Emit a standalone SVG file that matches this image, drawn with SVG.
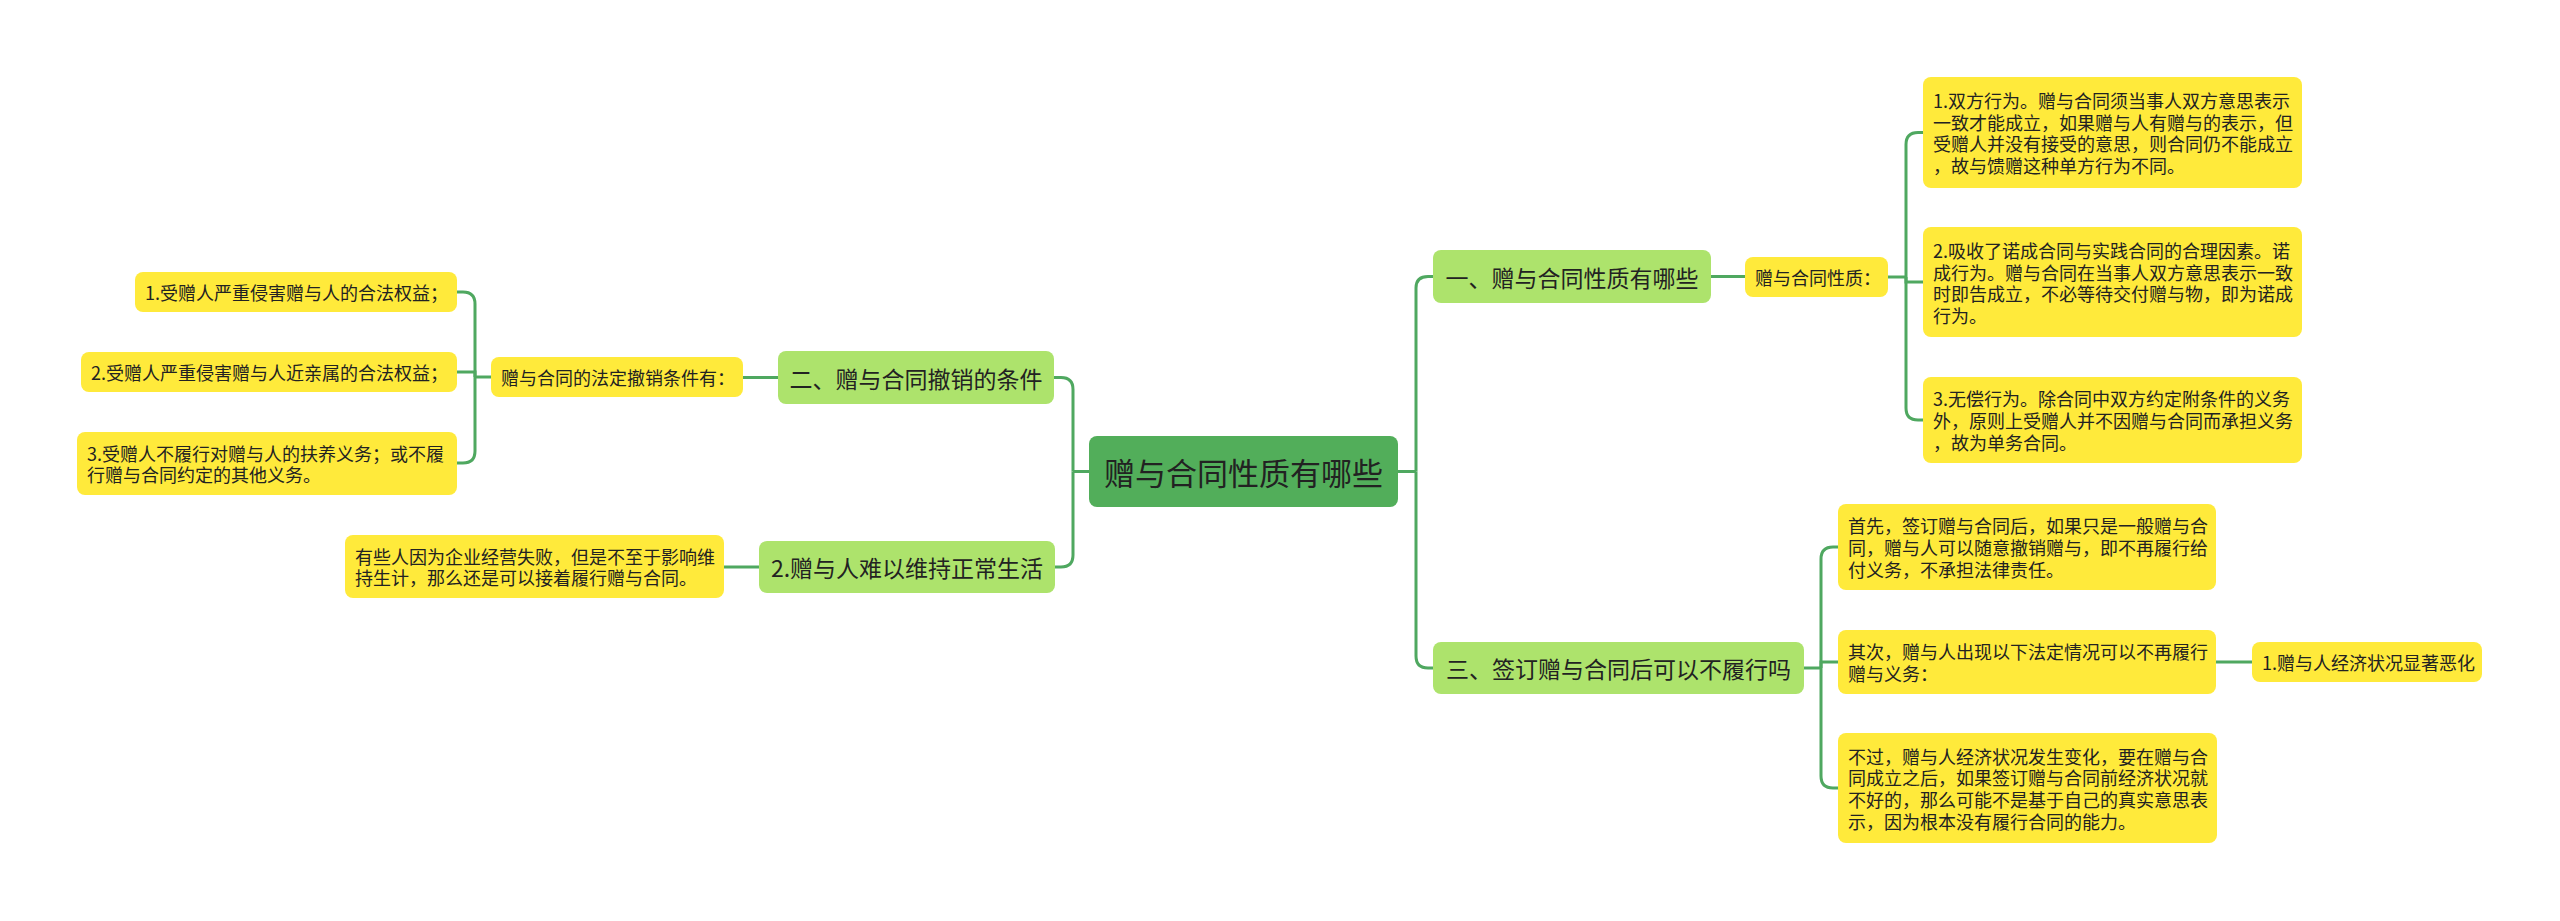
<svg xmlns="http://www.w3.org/2000/svg" width="2560" height="921" viewBox="0 0 2560 921">
<style>
text{font-family:"Noto Sans CJK SC","Noto Sans",sans-serif;fill:#222;dominant-baseline:central}
.root rect{fill:#52ae5a}
.root text{font-size:31px;text-anchor:middle}
.l1 rect{fill:#ade36c}
.l1 text{font-size:23px;text-anchor:middle}
.l2 rect{fill:#ffea3b}
.l2 text{font-size:18px}
.conn path{fill:none;stroke:#4fa860;stroke-width:3}
</style>
<rect width="2560" height="921" fill="#fff"/>
<g class="conn">
<path d="M1398,471.5 H1416"/>
<path d="M1416,471.5 V288 Q1416,276.5 1428,276.5 H1433"/>
<path d="M1416,471.5 V656 Q1416,668 1428,668 H1433"/>
<path d="M1089,471.5 H1073"/>
<path d="M1073,471.5 V389.5 Q1073,377.5 1061,377.5 H1054"/>
<path d="M1073,471.5 V555 Q1073,567 1061,567 H1055"/>
<path d="M1711,276.5 H1745"/>
<path d="M1888,277 H1906"/>
<path d="M1906,277 V144.5 Q1906,132.5 1918,132.5 H1923"/>
<path d="M1906,277 V282 H1923"/>
<path d="M1906,277 V408 Q1906,420 1918,420 H1923"/>
<path d="M1804,668 H1821"/>
<path d="M1821,668 V559 Q1821,547 1833,547 H1838"/>
<path d="M1821,668 V662 H1838"/>
<path d="M1821,668 V776 Q1821,788 1833,788 H1838"/>
<path d="M2216,662 H2252"/>
<path d="M778,377.5 H743"/>
<path d="M491,377 H475"/>
<path d="M475,377 V304 Q475,292 463,292 H457"/>
<path d="M475,377 V372 H457"/>
<path d="M475,377 V451 Q475,463 463,463 H457"/>
<path d="M759,567 H724"/>
</g>
<g id="root" class="root"><rect x="1089" y="436" width="309" height="71" rx="8"/><text x="1243.5" y="471.5">赠与合同性质有哪些</text></g>
<g id="n1" class="l1"><rect x="1433" y="250" width="278" height="53" rx="8"/><text x="1572" y="276.5">一、赠与合同性质有哪些</text></g>
<g id="n1a" class="l2"><rect x="1745" y="257" width="143" height="40" rx="8"/><text x="1755" y="277">赠与合同性质：</text></g>
<g id="n1a1" class="l2"><rect x="1923" y="77" width="379" height="111" rx="8"/><text x="1933"><tspan x="1933" y="100">1.双方行为。赠与合同须当事人双方意思表示</tspan><tspan x="1933" y="121.7">一致才能成立，如果赠与人有赠与的表示，但</tspan><tspan x="1933" y="143.4">受赠人并没有接受的意思，则合同仍不能成立</tspan><tspan x="1933" y="165.1">，故与馈赠这种单方行为不同。</tspan></text></g>
<g id="n1a2" class="l2"><rect x="1923" y="227" width="379" height="110" rx="8"/><text x="1933"><tspan x="1933" y="250">2.吸收了诺成合同与实践合同的合理因素。诺</tspan><tspan x="1933" y="271.7">成行为。赠与合同在当事人双方意思表示一致</tspan><tspan x="1933" y="293.4">时即告成立，不必等待交付赠与物，即为诺成</tspan><tspan x="1933" y="315.1">行为。</tspan></text></g>
<g id="n1a3" class="l2"><rect x="1923" y="377" width="379" height="86" rx="8"/><text x="1933"><tspan x="1933" y="398.3">3.无偿行为。除合同中双方约定附条件的义务</tspan><tspan x="1933" y="420">外，原则上受赠人并不因赠与合同而承担义务</tspan><tspan x="1933" y="441.7">，故为单务合同。</tspan></text></g>
<g id="n3" class="l1"><rect x="1433" y="642" width="371" height="52" rx="8"/><text x="1618.5" y="668">三、签订赠与合同后可以不履行吗</text></g>
<g id="n3a" class="l2"><rect x="1838" y="504" width="378" height="86" rx="8"/><text x="1848"><tspan x="1848" y="525.3">首先，签订赠与合同后，如果只是一般赠与合</tspan><tspan x="1848" y="547">同，赠与人可以随意撤销赠与，即不再履行给</tspan><tspan x="1848" y="568.7">付义务，不承担法律责任。</tspan></text></g>
<g id="n3b" class="l2"><rect x="1838" y="630" width="378" height="64" rx="8"/><text x="1848"><tspan x="1848" y="651.2">其次，赠与人出现以下法定情况可以不再履行</tspan><tspan x="1848" y="672.9">赠与义务：</tspan></text></g>
<g id="n3b1" class="l2"><rect x="2252" y="642" width="230" height="40" rx="8"/><text x="2262" y="662">1.赠与人经济状况显著恶化</text></g>
<g id="n3c" class="l2"><rect x="1838" y="733" width="379" height="110" rx="8"/><text x="1848"><tspan x="1848" y="755.5">不过，赠与人经济状况发生变化，要在赠与合</tspan><tspan x="1848" y="777.2">同成立之后，如果签订赠与合同前经济状况就</tspan><tspan x="1848" y="798.9">不好的，那么可能不是基于自己的真实意思表</tspan><tspan x="1848" y="820.6">示，因为根本没有履行合同的能力。</tspan></text></g>
<g id="n2" class="l1"><rect x="778" y="351" width="276" height="53" rx="8"/><text x="916" y="377.5">二、赠与合同撤销的条件</text></g>
<g id="n2a" class="l2"><rect x="491" y="357" width="252" height="40" rx="8"/><text x="501" y="377">赠与合同的法定撤销条件有：</text></g>
<g id="n2a1" class="l2"><rect x="135" y="272" width="322" height="40" rx="8"/><text x="145" y="292">1.受赠人严重侵害赠与人的合法权益；</text></g>
<g id="n2a2" class="l2"><rect x="81" y="352" width="376" height="40" rx="8"/><text x="91" y="372">2.受赠人严重侵害赠与人近亲属的合法权益；</text></g>
<g id="n2a3" class="l2"><rect x="77" y="432" width="380" height="63" rx="8"/><text x="87"><tspan x="87" y="452.6">3.受赠人不履行对赠与人的扶养义务；或不履</tspan><tspan x="87" y="474.3">行赠与合同约定的其他义务。</tspan></text></g>
<g id="n4" class="l1"><rect x="759" y="541" width="296" height="52" rx="8"/><text x="907" y="567">2.赠与人难以维持正常生活</text></g>
<g id="n4a" class="l2"><rect x="345" y="535" width="379" height="63" rx="8"/><text x="355"><tspan x="355" y="555.6">有些人因为企业经营失败，但是不至于影响维</tspan><tspan x="355" y="577.3">持生计，那么还是可以接着履行赠与合同。</tspan></text></g>
</svg>
